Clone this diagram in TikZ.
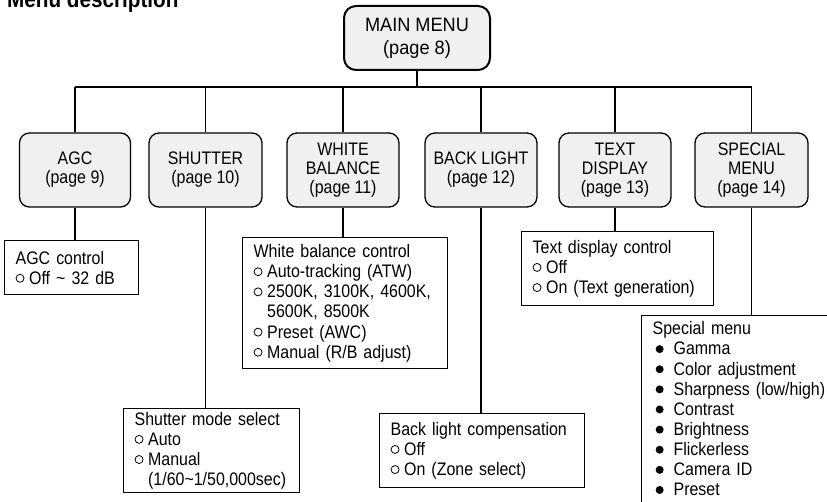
\documentclass[tikz,border=0pt]{standalone}
\usepackage{fontspec}
\setmainfont{Liberation Sans}[FakeStretch=0.88]
\newfontfamily\mainfnt{Liberation Sans}[FakeStretch=0.94]
\newcommand\oc{\makebox[13.5bp][l]{\tikz[baseline=0pt]\draw[line width=0.8bp] (4.3bp,5.9bp) circle[radius=4bp];}}
\newcommand\ocind{\hspace*{13.5bp}}
\newcommand\bul{\hspace*{3bp}\makebox[18bp][l]{\tikz[baseline=0pt]\fill (4bp,5.8bp) circle[radius=4bp];}}
\begin{document}
\begin{tikzpicture}[x=1bp,y=-1bp,
  mainbox/.style={draw, line width=2bp, rounded corners=12bp, fill=black!6,
    minimum width=146bp, minimum height=64bp, inner sep=0pt, align=center,
    font=\mainfnt\fontsize{19.4}{23}\selectfont},
  catbox/.style={draw, line width=1.3bp, rounded corners=10bp, fill=black!6,
    minimum height=74bp, inner sep=0pt, align=center,
    font=\fontsize{18.2}{19}\selectfont},
  infobox/.style={draw, line width=1.3bp, fill=white, anchor=north west,
    inner xsep=11bp, inner ysep=0pt, align=left,
    font=\fontsize{18.2}{20.2}\selectfont},
  link/.style={line width=1.3bp}]
\clip (0,0) rectangle (827,502);
\fill[white] (0,0) rectangle (827,502);

\node[anchor=base west, inner sep=0pt, font=\fontsize{23.6}{26}\bfseries\selectfont] (title) at (7,7.3) {Menu description};

\node[mainbox] (main) at (417,38) {MAIN MENU\\(page 8)};

\node[catbox, minimum width=111bp] (agc)  at (75,170)   {AGC\\(page 9)};
\node[catbox, minimum width=113bp] (shut) at (205.5,170) {SHUTTER\\(page 10)};
\node[catbox, minimum width=112bp] (wb)   at (343,170)  {WHITE\\BALANCE\\(page 11)};
\node[catbox, minimum width=112bp] (bl)   at (481,170)  {BACK LIGHT\\(page 12)};
\node[catbox, minimum width=112bp] (td)   at (615,170)  {TEXT\\DISPLAY\\(page 13)};
\node[catbox, minimum width=113bp] (sm)   at (751.5,170) {SPECIAL\\MENU\\(page 14)};

\coordinate (bus) at (417,87);
\draw[link] (main.south) -- (bus);
\draw[link] (agc.north |- bus) -- (sm.north |- bus);
\foreach \n in {agc,shut,wb,bl,td,sm}
  \draw[link] (\n.north) -- (\n.north |- bus);

\node[infobox, text width=112bp, minimum height=54bp] (agcc) at (4,240)
  {AGC control\\\oc Off \textasciitilde{} 32 dB};
\node[infobox, text width=183bp, minimum height=131bp] (wbc) at (242,237)
  {White balance control\\\oc Auto-tracking (ATW)\\\oc 2500K, 3100K, 4600K,\\\ocind 5600K, 8500K\\\oc Preset (AWC)\\\oc Manual (R/B adjust)};
\node[infobox, text width=170bp, minimum height=74bp] (tdc) at (521,231)
  {Text display control\\\oc Off\\\oc On (Text generation)};
\node[infobox, text width=154bp, minimum height=84bp] (shc) at (123,408)
  {Shutter mode select\\\oc Auto\\\oc Manual\\\ocind (1/60\textasciitilde 1/50,000sec)};
\node[infobox, text width=183bp, minimum height=74bp] (blc) at (379,413)
  {Back light compensation\\\oc Off\\\oc On (Zone select)};
\node[infobox, text width=200bp, inner ysep=6bp] (smc) at (641,315)
  {Special menu\\\bul Gamma\\\bul Color adjustment\\\bul Sharpness (low/high)\\\bul Contrast\\\bul Brightness\\\bul Flickerless\\\bul Camera ID\\\bul Preset\\\mbox{}};

\draw[link] (agc.south)  -- (agc.south |- agcc.north);
\draw[link] (shut.south) -- (shut.south |- shc.north);
\draw[link] (wb.south)   -- (wb.south |- wbc.north);
\draw[link] (bl.south)   -- (bl.south |- blc.north);
\draw[link] (td.south)   -- (td.south |- tdc.north);
\draw[link] (sm.south)   -- (sm.south |- smc.north);
\end{tikzpicture}
\end{document}
